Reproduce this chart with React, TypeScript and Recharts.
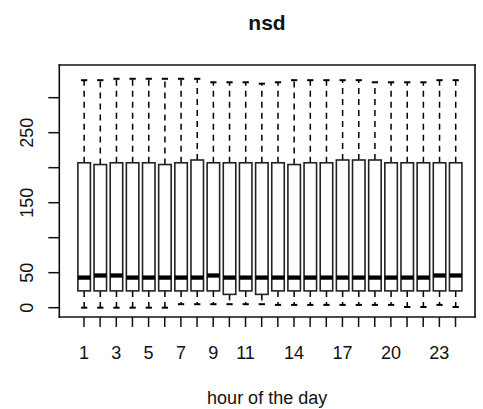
import { Bar, ComposedChart, XAxis, YAxis } from "recharts";

// five-number summary per hour of the day
const hours = [1, 2, 3, 4, 5, 6, 7, 8, 9, 10, 11, 12, 13, 14, 15, 16, 17, 18, 19, 20, 21, 22, 23, 24];
const whiskerHigh = [325, 325, 327, 327, 327, 327, 327, 327, 322, 322, 322, 320, 322, 325, 325, 325, 325, 325, 322, 322, 322, 322, 325, 325];
const upperQuartile = [207, 204.5, 207, 207, 207, 204.5, 207, 211, 207, 207, 207, 207, 207, 204.5, 207, 207, 211, 211, 211, 207, 207, 207, 207, 207];
const medians = [43, 46, 46, 43, 43, 43, 43, 43, 46, 43, 43, 43, 43, 43, 43, 43, 43, 43, 43, 43, 43, 43, 46, 46];
const lowerQuartile = [24, 24, 24, 24, 24, 24, 24, 24, 24, 19, 24, 19, 24, 24, 24, 24, 24, 24, 24, 24, 24, 24, 24, 24];
const whiskerLow = [0, 0, 0, 0, 0, 0, 5, 5, 5, 5, 5, 5, 4, 4, 4, 4, 4, 4, 4, 4, 1, 1, 4, 1];

const hourLabels = [1, 3, 5, 7, 9, 11, 14, 17, 20, 23];
const valueTicks = [0, 50, 100, 150, 200, 250, 300];
const valueLabels = [0, 50, 150, 250];

const data = hours.map((hour, i) => ({
  hour,
  lo: whiskerLow[i],
  q1: lowerQuartile[i],
  med: medians[i],
  q3: upperQuartile[i],
  hi: whiskerHigh[i],
}));

const font = "'Liberation Sans', Arial, sans-serif";
const ink = "#111";

// the bar spans lo..hi, so its pixel box gives the value->pixel mapping
const BoxShape = (props: any) => {
  const { x, y, width, height, payload } = props;
  const top = Math.min(y, y + height);
  const bottom = Math.max(y, y + height);
  const toY = (v: number) =>
    bottom + ((v - payload.lo) / (payload.hi - payload.lo)) * (top - bottom);
  const cx = x + width / 2;
  const cap = width / 4;
  return (
    <g>
      <line x1={cx} x2={cx} y1={toY(payload.q3)} y2={toY(payload.hi)} stroke="#000" strokeWidth={1.5} strokeDasharray="6 5" />
      <line x1={cx} x2={cx} y1={toY(payload.q1)} y2={toY(payload.lo)} stroke="#000" strokeWidth={1.5} strokeDasharray="6 5" />
      <line x1={cx - cap} x2={cx + cap} y1={toY(payload.hi)} y2={toY(payload.hi)} stroke="#000" strokeWidth={2} />
      <line x1={cx - cap} x2={cx + cap} y1={toY(payload.lo)} y2={toY(payload.lo)} stroke="#000" strokeWidth={2} />
      <rect
        x={x}
        y={toY(payload.q3)}
        width={width}
        height={toY(payload.q1) - toY(payload.q3)}
        fill="#fff"
        stroke="#222"
        strokeWidth={1.6}
      />
      <line x1={x} x2={x + width} y1={toY(payload.med)} y2={toY(payload.med)} stroke="#000" strokeWidth={4.3} />
    </g>
  );
};

const HourTick = ({ x, y, payload }: any) => (
  <g>
    <line x1={x} x2={x} y1={y} y2={y + 10} stroke={ink} strokeWidth={1.5} />
    {hourLabels.includes(payload.value) && (
      <text x={x} y={y + 36} textAnchor="middle" dominantBaseline="central" fontSize={18} fontFamily={font} fill={ink}>
        {payload.value}
      </text>
    )}
  </g>
);

const ValueTick = ({ x, y, payload }: any) => (
  <g>
    <line x1={x} x2={x - 11} y1={y} y2={y} stroke={ink} strokeWidth={1.5} />
    {valueLabels.includes(payload.value) && (
      <text
        x={x - 32}
        y={y}
        transform={`rotate(-90, ${x - 32}, ${y})`}
        textAnchor="middle"
        dominantBaseline="central"
        fontSize={18}
        fontFamily={font}
        fill={ink}
      >
        {payload.value}
      </text>
    )}
  </g>
);

const frame = { stroke: "#111", strokeWidth: 1.6, strokeLinecap: "square" as const };

export default function App() {
  return (
    <div style={{ position: "absolute", left: 0, top: 0, width: 483, height: 409, background: "#fff" }}>
      <div
        style={{
          position: "absolute",
          left: 59,
          width: 416,
          top: 10,
          lineHeight: "26px",
          textAlign: "center",
          fontFamily: font,
          fontWeight: "bold",
          fontSize: 21,
          color: ink,
        }}
      >
        nsd
      </div>
      <ComposedChart
        width={483}
        height={409}
        data={data}
        margin={{ top: 64, right: 7, bottom: 0, left: 9.3 }}
      >
        <XAxis
          dataKey="hour"
          type="category"
          interval={0}
          height={92}
          padding={{ left: 16.6, right: 11.4 }}
          tickSize={0}
          tickMargin={0}
          tickLine={false}
          axisLine={frame}
          tick={<HourTick />}
          label={{ value: "hour of the day", position: "insideBottom", offset: 5, fontSize: 18, fontFamily: font, fill: ink }}
        />
        <XAxis
          xAxisId="top"
          orientation="top"
          dataKey="hour"
          height={1}
          tick={false}
          tickLine={false}
          axisLine={frame}
        />
        <YAxis
          type="number"
          domain={[-13.3, 346.7]}
          allowDataOverflow
          ticks={valueTicks}
          interval={0}
          width={50}
          tickSize={0}
          tickMargin={0}
          tickLine={false}
          axisLine={frame}
          tick={<ValueTick />}
        />
        <YAxis
          yAxisId="right"
          orientation="right"
          type="number"
          domain={[-13.3, 346.7]}
          width={1}
          tick={false}
          tickLine={false}
          axisLine={frame}
        />
        <Bar
          dataKey={(d: any) => [d.lo, d.hi]}
          barSize={12.5}
          shape={<BoxShape />}
          isAnimationActive={false}
        />
      </ComposedChart>
    </div>
  );
}
